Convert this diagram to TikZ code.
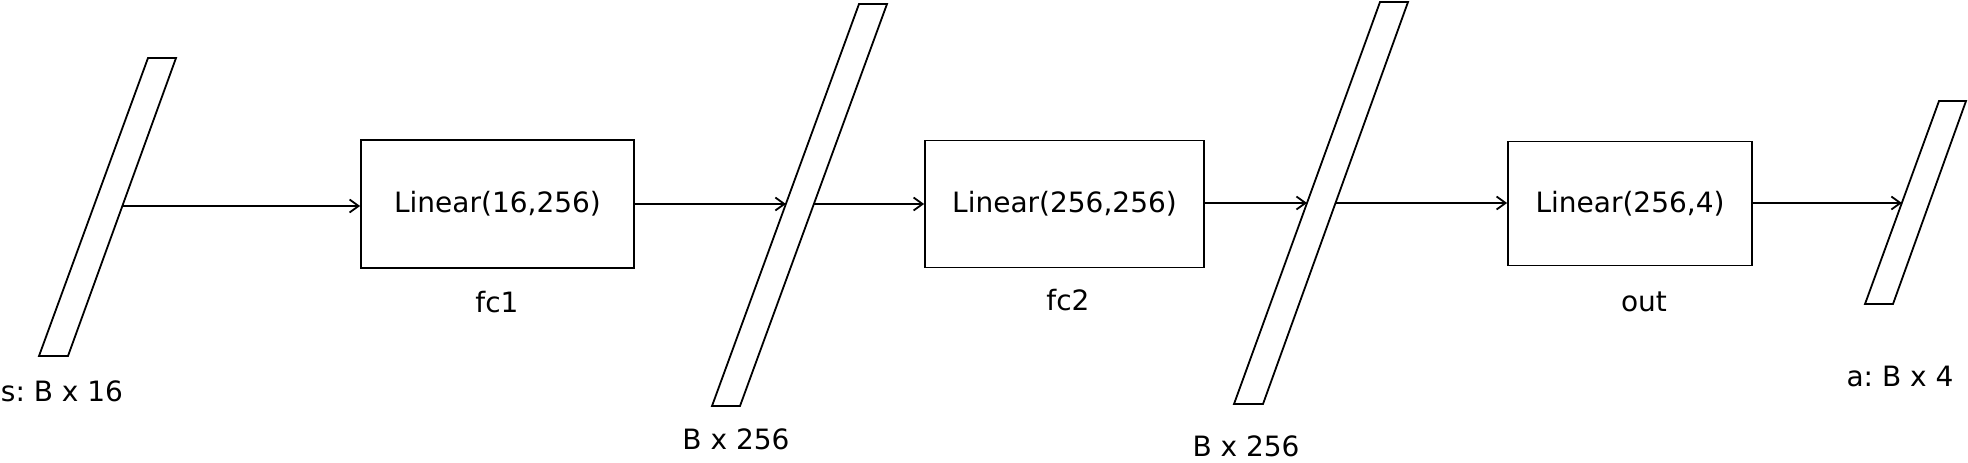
\documentclass[tikz,border=0pt]{standalone}
\usepackage{fontspec}
\setmainfont{DejaVu Sans}
\usetikzlibrary{arrows.meta}
\begin{document}
\begin{tikzpicture}[x=1pt,y=-1pt,
  line width=1.8pt,
  layer/.style={draw, line join=miter},
  fcbox/.style={draw, rectangle, inner sep=0pt, align=center, font=\fontsize{28}{34}\selectfont\frenchspacing},
  lbl/.style={inner sep=0pt, font=\fontsize{28}{34}\selectfont\frenchspacing},
  conn/.style={-{Straight Barb[length=9pt,width=13pt,line width=1.8pt]}}]
\useasboundingbox (0,0) rectangle (1968,463);
% tensors (parallelograms)
\coordinate (p1bl) at (39,356);  \coordinate (p1br) at (68,356);
\coordinate (p1tr) at (176,58);  \coordinate (p1tl) at (148,58);
\coordinate (p2bl) at (712,406); \coordinate (p2br) at (740,406);
\coordinate (p2tr) at (887,4);   \coordinate (p2tl) at (859,4);
\coordinate (p3bl) at (1234,404);\coordinate (p3br) at (1263,404);
\coordinate (p3tr) at (1408,2);  \coordinate (p3tl) at (1380,2);
\coordinate (p4bl) at (1865,304);\coordinate (p4br) at (1893,304);
\coordinate (p4tr) at (1966,101);\coordinate (p4tl) at (1939,101);
\draw[layer] (p1bl) -- (p1br) -- (p1tr) -- (p1tl) -- cycle;
\draw[layer] (p2bl) -- (p2br) -- (p2tr) -- (p2tl) -- cycle;
\draw[layer] (p3bl) -- (p3br) -- (p3tr) -- (p3tl) -- cycle;
\draw[layer] (p4bl) -- (p4br) -- (p4tr) -- (p4tl) -- cycle;
% boxes
\node[fcbox, minimum width=273pt, minimum height=128pt] (fc1) at (497.5,204) {Linear(16,256)};
\node[fcbox, minimum width=279pt, minimum height=127pt] (fc2) at (1064.5,204) {Linear(256,256)};
\node[fcbox, minimum width=244pt, minimum height=124pt] (out) at (1630,203.5) {Linear(256,4)};
% labels
\node[lbl] (l1) at (62,391) {s: B x 16};
\node[lbl] (l2) at (736,439) {B x 256};
\node[lbl] (l3) at (1246,446) {B x 256};
\node[lbl] (l4) at (1900,376) {a: B x 4};
\node[lbl] (n1) at (497,302) {fc1};
\node[lbl] (n2) at (1068,300) {fc2};
\node[lbl] (n3) at (1644,302) {out};
% connection points on tensor edges
\coordinate (s1) at (intersection of p1br--p1tr and 0,206--100,206);
\coordinate (e2) at (intersection of p2bl--p2tl and 0,204--100,204);
\coordinate (s2) at (intersection of p2br--p2tr and 0,204--100,204);
\coordinate (e3) at (intersection of p3bl--p3tl and 0,203--100,203);
\coordinate (s3) at (intersection of p3br--p3tr and 0,203--100,203);
\coordinate (e4) at (intersection of p4bl--p4tl and 0,203--100,203);
% connectors
\draw[conn] (s1) -- (fc1.west |- s1);
\draw[conn] (fc1.east |- e2) -- (e2);
\draw[conn] (s2) -- (fc2.west |- s2);
\draw[conn] (fc2.east |- e3) -- (e3);
\draw[conn] (s3) -- (out.west |- s3);
\draw[conn] (out.east |- e4) -- (e4);
\end{tikzpicture}
\end{document}
